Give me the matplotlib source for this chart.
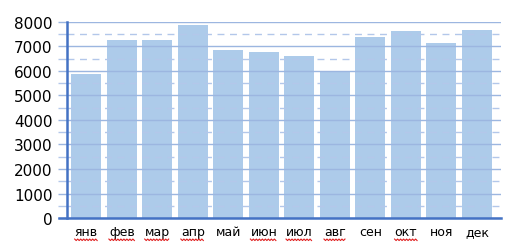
import matplotlib.pyplot as plt
from matplotlib.ticker import MultipleLocator
from matplotlib.lines import Line2D
import numpy as np

months = ['янв', 'фев', 'мар', 'апр', 'май', 'июн',
          'июл', 'авг', 'сен', 'окт', 'ноя', 'дек']
values = [5880, 7260, 7260, 7850, 6830, 6760,
          6600, 6010, 7370, 7620, 7130, 7660]
# labels that carry the red spell-check underline in the original
underlined = ['янв', 'фев', 'мар', 'апр', 'июн', 'июл', 'авг', 'окт']

bar_color = '#adcbea'
grid_color = '#9cb6e0'
spine_color = '#4472c4'

fig = plt.figure(figsize=(5.28, 2.53), dpi=100)
ax = fig.add_axes([0.127, 0.134, 0.822, 0.776])

x = np.arange(len(months))
ax.bar(x, values, width=0.85, color=bar_color, zorder=1)

ax.set_xlim(-0.54, 11.68)
ax.set_ylim(0, 8000)
ax.yaxis.set_major_locator(MultipleLocator(1000))
ax.yaxis.set_minor_locator(MultipleLocator(500))
ax.set_xticks(x)
ax.set_xticklabels(months, fontsize=9)

ax.grid(axis='y', which='major', color=grid_color, lw=1.0, zorder=2)
ax.grid(axis='y', which='minor', color='#b3c7ea', lw=1.0,
        linestyle=(0, (5, 4)), zorder=2)
ax.set_axisbelow(False)

ax.tick_params(axis='y', which='major', length=6.5, width=1.0,
               color=grid_color, labelsize=11, pad=4)
ax.tick_params(axis='y', which='minor', length=6.5, width=1.0,
               color='#b3c7ea')
ax.tick_params(axis='x', length=0, pad=5)

for s in ['top', 'right']:
    ax.spines[s].set_visible(False)
for s in ['left', 'bottom']:
    ax.spines[s].set_color(spine_color)
    ax.spines[s].set_linewidth(1.8)
    ax.spines[s].set_zorder(3)
ax.spines['bottom'].set_bounds(-0.76, 11.68)

# red wavy underline under some labels
fig.canvas.draw()
W, H = fig.bbox.width, fig.bbox.height
for lab in ax.get_xticklabels():
    if lab.get_text() in underlined:
        bb = lab.get_window_extent()
        xs = np.arange(bb.x0, bb.x1 + 0.1, 1.5)
        ys = bb.y0 - 1.0 + np.where(np.arange(len(xs)) % 2 == 0, 0.0, -1.5)
        fig.add_artist(Line2D(xs / W, ys / H, color='#e02020', lw=0.8))

fig.savefig('out.png', dpi=100)
